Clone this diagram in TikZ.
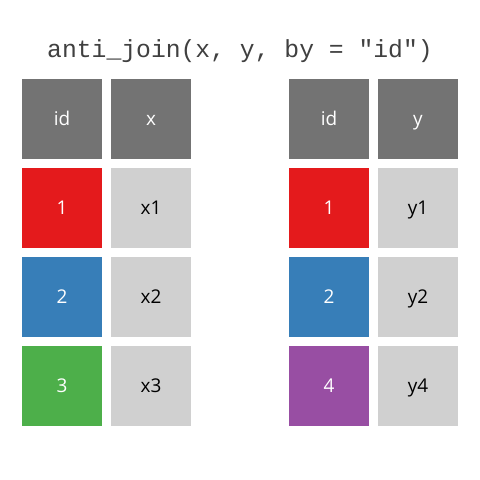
\documentclass[tikz,border=0pt]{standalone}
\usepackage{fontspec}
\setmainfont{Open Sans}
\newfontfamily\titlefont{Liberation Mono}
\definecolor{hdr}{HTML}{737373}
\definecolor{cred}{HTML}{E41A1C}
\definecolor{cblue}{HTML}{377EB8}
\definecolor{cgreen}{HTML}{4DAF4A}
\definecolor{cpurple}{HTML}{984EA3}
\definecolor{clight}{HTML}{D0D0D0}
\begin{document}
\begin{tikzpicture}[x=1bp,y=-1bp,
  cell/.style={minimum width=80bp,minimum height=80bp,inner sep=0pt,outer sep=0pt,
    text height=14bp,text depth=1bp,font=\fontsize{19}{19}\selectfont},
  head/.style={cell,fill=hdr,text=white},
  key/.style={cell,text=white},
  val/.style={cell,fill=clight,text=black}]
\useasboundingbox (0,0) rectangle (480,480);
\fill[white] (0,0) rectangle (480,480);
\node[text=black!75,font=\titlefont\fontsize{24.8}{24.8}\selectfont] (title) at (240,51) {anti\_join(x, y, by = "id")};
% left table
\node[head] (lh1) at (62,119) {id};
\node[head] (lh2) at (151,119) {x};
\node[key,fill=cred] (l11) at (62,208) {1};
\node[val] (l12) at (151,208) {x1};
\node[key,fill=cblue] (l21) at (62,297) {2};
\node[val] (l22) at (151,297) {x2};
\node[key,fill=cgreen] (l31) at (62,386) {3};
\node[val] (l32) at (151,386) {x3};
% right table
\node[head] (rh1) at (329,119) {id};
\node[head] (rh2) at (418,119) {y};
\node[key,fill=cred] (r11) at (329,208) {1};
\node[val] (r12) at (418,208) {y1};
\node[key,fill=cblue] (r21) at (329,297) {2};
\node[val] (r22) at (418,297) {y2};
\node[key,fill=cpurple] (r31) at (329,386) {4};
\node[val] (r32) at (418,386) {y4};
\end{tikzpicture}
\end{document}
